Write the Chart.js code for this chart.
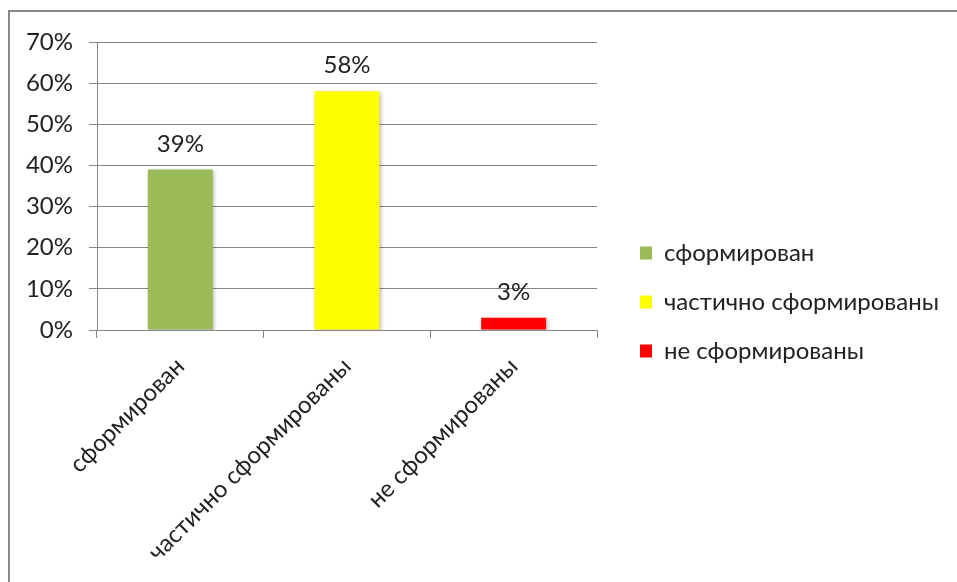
<!DOCTYPE html>
<html><head><meta charset="utf-8">
<script src="https://cdn.jsdelivr.net/npm/chart.js@4"></script>
<style>
html,body{margin:0;padding:0;background:#fff;overflow:hidden;width:957px;height:582px;}
#frame{position:absolute;left:8px;top:10px;width:1000px;height:1000px;border-left:2.5px solid #8a8a8a;border-top:2.5px solid #8a8a8a;box-sizing:border-box;}
#wrap{position:absolute;left:0;top:0;width:957px;height:582px;}
</style></head><body>
<div id="frame"></div>
<div id="wrap"><canvas id="c" width="957" height="582"></canvas></div>
<script>
const categories = ['сформирован', 'частично сформированы', 'не сформированы'];
const values = [39, 58, 3];
const barColors = ['#9BBB59', '#FFFF00', '#FF0000'];
const yMin = 0, yMax = 70, yStep = 10;

const FAMILY = 'Lato';
const FSIZE = 24;
const TEXT = '#222222';
const GRID = '#868686';

// legend geometry
const LEG_PAD = 25, BOX_W = 12, BOX_H = 13;
const mctx = document.createElement('canvas').getContext('2d');
mctx.font = FSIZE + 'px ' + FAMILY;
const textW = Math.max(...categories.map(t => mctx.measureText(t).width));
const legendW = Math.ceil(LEG_PAD + BOX_W + FSIZE / 2 + textW + 10);
const legendLeft = 615;
const padRight = 957 - legendLeft - legendW;

Chart.defaults.font.family = FAMILY;
Chart.defaults.font.size = FSIZE;
Chart.defaults.color = TEXT;

const barShadow = {
  id: 'barShadow',
  beforeDatasetsDraw(chart) {
    const c = chart.ctx; c.save();
    c.shadowColor = 'rgba(0,0,0,0.28)'; c.shadowBlur = 4; c.shadowOffsetX = 1.5; c.shadowOffsetY = 1.5;
  },
  afterDatasetsDraw(chart) { chart.ctx.restore(); }
};
const valueLabels = {
  id: 'valueLabels',
  afterDatasetsDraw(chart) {
    const c = chart.ctx; const meta = chart.getDatasetMeta(0);
    c.save(); c.font = FSIZE + 'px ' + FAMILY; c.fillStyle = TEXT;
    c.textAlign = 'center'; c.textBaseline = 'alphabetic';
    meta.data.forEach((bar, i) => c.fillText(values[i] + '%', bar.x, bar.y - 18));
    c.restore();
  }
};

new Chart(document.getElementById('c'), {
  type: 'bar',
  data: {
    labels: categories,
    datasets: [{ data: values, backgroundColor: barColors, borderWidth: 0, barPercentage: 0.39, categoryPercentage: 1 }]
  },
  options: {
    responsive: false, animation: false, events: [],
    layout: { padding: { top: 22, bottom: 0, left: 0, right: padRight } },
    plugins: {
      tooltip: { enabled: false },
      legend: {
        position: 'right', align: 'center', maxWidth: legendW,
        labels: {
          boxWidth: BOX_W, boxHeight: BOX_H, padding: LEG_PAD, color: TEXT,
          font: { family: FAMILY, size: FSIZE },
          generateLabels: () => categories.map((t, i) => ({ text: t, fillStyle: barColors[i], strokeStyle: barColors[i], lineWidth: 0, hidden: false, index: i, fontColor: TEXT }))
        }
      }
    },
    scales: {
      x: {
        offset: true,
        grid: { display: true, offset: true, drawOnChartArea: false, drawTicks: true, tickLength: 8, color: GRID },
        border: { display: true, color: GRID, width: 1 },
        ticks: { minRotation: 45, maxRotation: 45, autoSkip: false, padding: 14, color: TEXT, font: { size: FSIZE } },
        afterFit: s => { s.height = 252; }
      },
      xTop: {
        type: 'category', position: 'top', axis: 'x',
        grid: { display: false, drawTicks: false }, border: { display: false }, ticks: { display: false },
        afterFit: s => { s.height = 20; }
      },
      y: {
        min: yMin, max: yMax,
        ticks: { stepSize: yStep, padding: 16, color: TEXT, font: { size: FSIZE }, callback: v => v + '%' },
        grid: { color: GRID, tickLength: 8, drawTicks: true },
        border: { color: GRID, width: 1 },
        afterFit: s => { s.width = 97; }
      },
      yRight: {
        type: 'linear', position: 'right', axis: 'y',
        grid: { display: false, drawTicks: false }, border: { display: false }, ticks: { display: false },
        afterFit: s => { s.width = 18; }
      }
    }
  },
  plugins: [barShadow, valueLabels]
});
</script>
</body></html>
